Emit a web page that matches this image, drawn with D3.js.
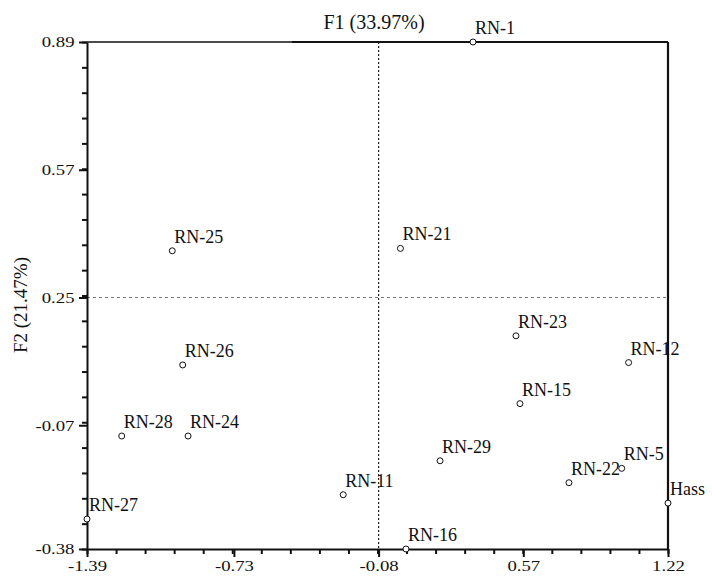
<!DOCTYPE html>
<html>
<head>
<meta charset="utf-8">
<script src="https://cdn.jsdelivr.net/npm/d3@7"></script>
<style>
  body { margin: 0; background: #fff; }
  text { font-family: "Liberation Serif", "Times New Roman", serif; fill: #111; }
</style>
</head>
<body>
<div id="chart"></div>
<script>
var margin = { top: 42, right: 44, bottom: 30, left: 87 },
    width = 712 - margin.left - margin.right,
    height = 579 - margin.top - margin.bottom;

// scores
var names = ["RN-1","RN-25","RN-21","RN-26","RN-23","RN-12","RN-28","RN-24","RN-15","RN-29","RN-22","RN-5","RN-11","Hass","RN-27","RN-16"],
    f1 = [0.344,-1.007,0.018,-0.960,0.537,1.043,-1.234,-0.936,0.555,0.196,0.775,1.012,-0.239,1.22,-1.39,0.043],
    f2 = [0.89,0.367,0.373,0.081,0.154,0.087,-0.097,-0.097,-0.016,-0.159,-0.214,-0.178,-0.244,-0.265,-0.305,-0.38];

var xTicks = [-1.39,-0.73,-0.08,0.57,1.22],
    xTickLabels = ["-1.39","-0.73","-0.08","0.57","1.22"],
    yTicks = [-0.38,-0.07,0.25,0.57,0.89],
    yTickLabels = ["-0.38","-0.07","0.25","0.57","0.89"];

var xTitle = "F1 (33.97%)", yTitle = "F2 (21.47%)";

var data = names.map(function(n, i) { return { name: n, x: f1[i], y: f2[i] }; });

const svg = d3.select("#chart").append("svg")
    .attr("width", width + margin.left + margin.right)
    .attr("height", height + margin.top + margin.bottom)
  .append("g")
    .attr("transform", "translate(" + margin.left + "," + margin.top + ")");

var x = d3.scaleLinear().domain([xTicks[0], xTicks[4]]).range([0, width]),
    y = d3.scaleLinear().domain([yTicks[0], yTicks[4]]).range([height, 0]);

// minor ticks: 5 steps between labelled ticks
var xMinor = d3.range(21).map(function(i) { return xTicks[0] + i * (xTicks[4] - xTicks[0]) / 20; }),
    yMinor = d3.range(21).map(function(i) { return yTicks[0] + i * (yTicks[4] - yTicks[0]) / 20; });

// reference lines
svg.append("line")
    .attr("x1", x(-0.08)).attr("x2", x(-0.08))
    .attr("y1", 0).attr("y2", height)
    .attr("stroke", "#222").attr("stroke-width", 1.2)
    .attr("stroke-dasharray", "2,2");
svg.append("line")
    .attr("x1", 0).attr("x2", width)
    .attr("y1", y(0.25)).attr("y2", y(0.25))
    .attr("stroke", "#777").attr("stroke-width", 1)
    .attr("stroke-dasharray", "3,3");

// minor tick axes
svg.append("g")
    .attr("transform", "translate(0," + height + ")")
    .call(d3.axisBottom(x).tickValues(xMinor).tickSize(5).tickFormat(""))
    .call(function(g) { g.select(".domain").remove(); });
svg.append("g")
    .call(d3.axisLeft(y).tickValues(yMinor).tickSize(5).tickFormat(""))
    .call(function(g) { g.select(".domain").remove(); });

// major axes
var xAxis = svg.append("g")
    .attr("transform", "translate(0," + height + ")")
    .call(d3.axisBottom(x).tickValues(xTicks).tickSize(8).tickSizeOuter(0).tickPadding(3)
      .tickFormat(function(d, i) { return xTickLabels[i]; }));
var yAxis = svg.append("g")
    .call(d3.axisLeft(y).tickValues(yTicks).tickSize(8).tickSizeOuter(0).tickPadding(2)
      .tickFormat(function(d, i) { return yTickLabels[i]; }));

svg.selectAll(".tick line").attr("stroke", "#111").attr("stroke-width", 2);
svg.selectAll(".domain").attr("stroke", "#111").attr("stroke-width", 2);
svg.selectAll(".tick text")
    .attr("font-size", 15)
    .style("font-family", "Liberation Serif, serif")
    .attr("fill", "#111")
    .attr("transform", "scale(1.25,1)");

// frame top and right
svg.append("line")
    .attr("x1", 0).attr("x2", 205).attr("y1", 0).attr("y2", 0)
    .attr("stroke", "#111").attr("stroke-width", 1.5);
svg.append("line")
    .attr("x1", 205).attr("x2", width).attr("y1", 0).attr("y2", 0)
    .attr("stroke", "#111").attr("stroke-width", 2);
svg.append("line")
    .attr("x1", width).attr("x2", width).attr("y1", 0).attr("y2", height)
    .attr("stroke", "#111").attr("stroke-width", 2.2);

// titles
svg.append("text")
    .attr("x", 287).attr("y", -13)
    .attr("text-anchor", "middle")
    .attr("font-size", 20)
    .text(xTitle);
svg.append("text")
    .attr("transform", "translate(-60," + 263 + ") rotate(-90)")
    .attr("text-anchor", "middle")
    .attr("font-size", 19)
    .text(yTitle);

// points
var pts = svg.selectAll(".pt")
    .data(data)
    .enter().append("g")
    .attr("class", "pt")
    .attr("transform", function(d) { return "translate(" + x(d.x) + "," + y(d.y) + ")"; });

pts.append("circle")
    .attr("r", 3)
    .attr("fill", "#fff")
    .attr("stroke", "#111")
    .attr("stroke-width", 1);

pts.append("text")
    .attr("x", 2)
    .attr("y", -8)
    .attr("font-size", 18)
    .text(function(d) { return d.name; });
</script>
</body>
</html>
